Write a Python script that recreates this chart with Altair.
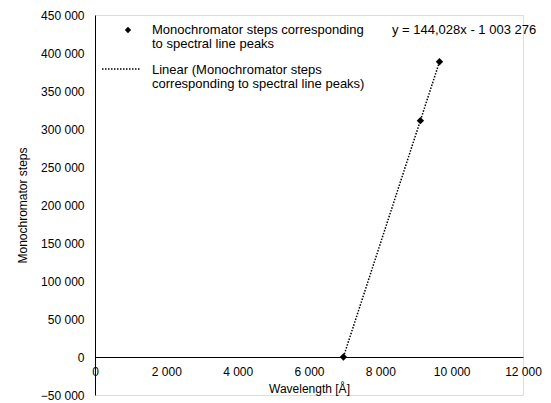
import altair as alt
import pandas as pd

wavelength = [6965, 9123, 9658]
steps = [0, 311000, 388500]
y_ticks = [-50000, 0, 50000, 100000, 150000, 200000, 250000, 300000, 350000, 400000, 450000]
x_ticks = [0, 2000, 4000, 6000, 8000, 10000, 12000]
series_name = "Monochromator steps corresponding to spectral line peaks"
equation = "y = 144,028x - 1 003 276"

df = pd.DataFrame({"Wavelength": wavelength, "Steps": steps})
one = pd.DataFrame({"k": [0]})
FONT = "Liberation Sans"
FS = 12
LFS = 13

x_scale = alt.Scale(domain=[0, 12000], nice=False)
y_scale = alt.Scale(domain=[-50000, 450000], nice=False)
lab = "replace(format(datum.value, ','), ',', ' ')"

x_axis = alt.Axis(values=x_ticks, labelExpr=lab, offset=-38, grid=False, ticks=False,
                  domainColor="black", labelPadding=9, titlePadding=6, labelOverlap=False,
                  labelFlush=False, labelBound=False,
                  labelFont=FONT, labelFontSize=FS, titleFont=FONT, titleFontSize=FS,
                  titleFontWeight="normal", labelColor="black", titleColor="black")
y_axis = alt.Axis(values=y_ticks, labelExpr=lab, grid=False, ticks=False,
                  domainColor="black", labelPadding=11, titlePadding=11, labelOverlap=False,
                  labelFlush=False, labelBound=False,
                  labelFont=FONT, labelFontSize=FS, titleFont=FONT, titleFontSize=FS,
                  titleFontWeight="normal", labelColor="black", titleColor="black")

base = alt.Chart(df)

trend = base.transform_regression("Wavelength", "Steps", method="linear").mark_line(
    color="black", strokeDash=[1.5, 1.5], strokeWidth=1.5
).encode(x=alt.X("Wavelength:Q", scale=x_scale, title="Wavelength [Å]", axis=x_axis),
         y=alt.Y("Steps:Q", scale=y_scale, title="Monochromator steps", axis=y_axis))

points = base.mark_point(shape="diamond", filled=True, color="black", size=55, opacity=1).encode(
    x=alt.X("Wavelength:Q", scale=x_scale, title="Wavelength [Å]", axis=x_axis),
    y=alt.Y("Steps:Q", scale=y_scale, title="Monochromator steps", axis=y_axis),
)

def txt(s, x, y, align="left"):
    return alt.Chart(one).mark_text(font=FONT, fontSize=LFS, fontWeight="normal", align=align,
                                    baseline="middle", color="black").encode(
        x=alt.value(x), y=alt.value(y), text=alt.value(s))

leg_point = alt.Chart(one).mark_point(shape="diamond", filled=True, color="black", size=40, opacity=1).encode(
    x=alt.value(33), y=alt.value(15))
leg_line = alt.Chart(one).mark_rule(color="black", strokeDash=[1.5, 1.5], strokeWidth=1.5).encode(
    x=alt.value(7), x2=alt.value(45), y=alt.value(54))

layers = [
    trend, points, leg_point, leg_line,
    txt("Monochromator steps corresponding", 57, 15),
    txt("to spectral line peaks", 57, 29),
    txt("Linear (Monochromator steps", 57, 55),
    txt("corresponding to spectral line peaks)", 57, 69),
    txt(equation, 297, 15),
]

chart = alt.layer(*layers).properties(
    width=428, height=380,
    autosize=alt.AutoSizeParams(type="none"),
    padding={"left": 95, "top": 15, "right": 28, "bottom": 8},
).configure_view(stroke=None).configure(background="white")

chart.save("out.html", embed_options={"renderer": "svg", "actions": False})
